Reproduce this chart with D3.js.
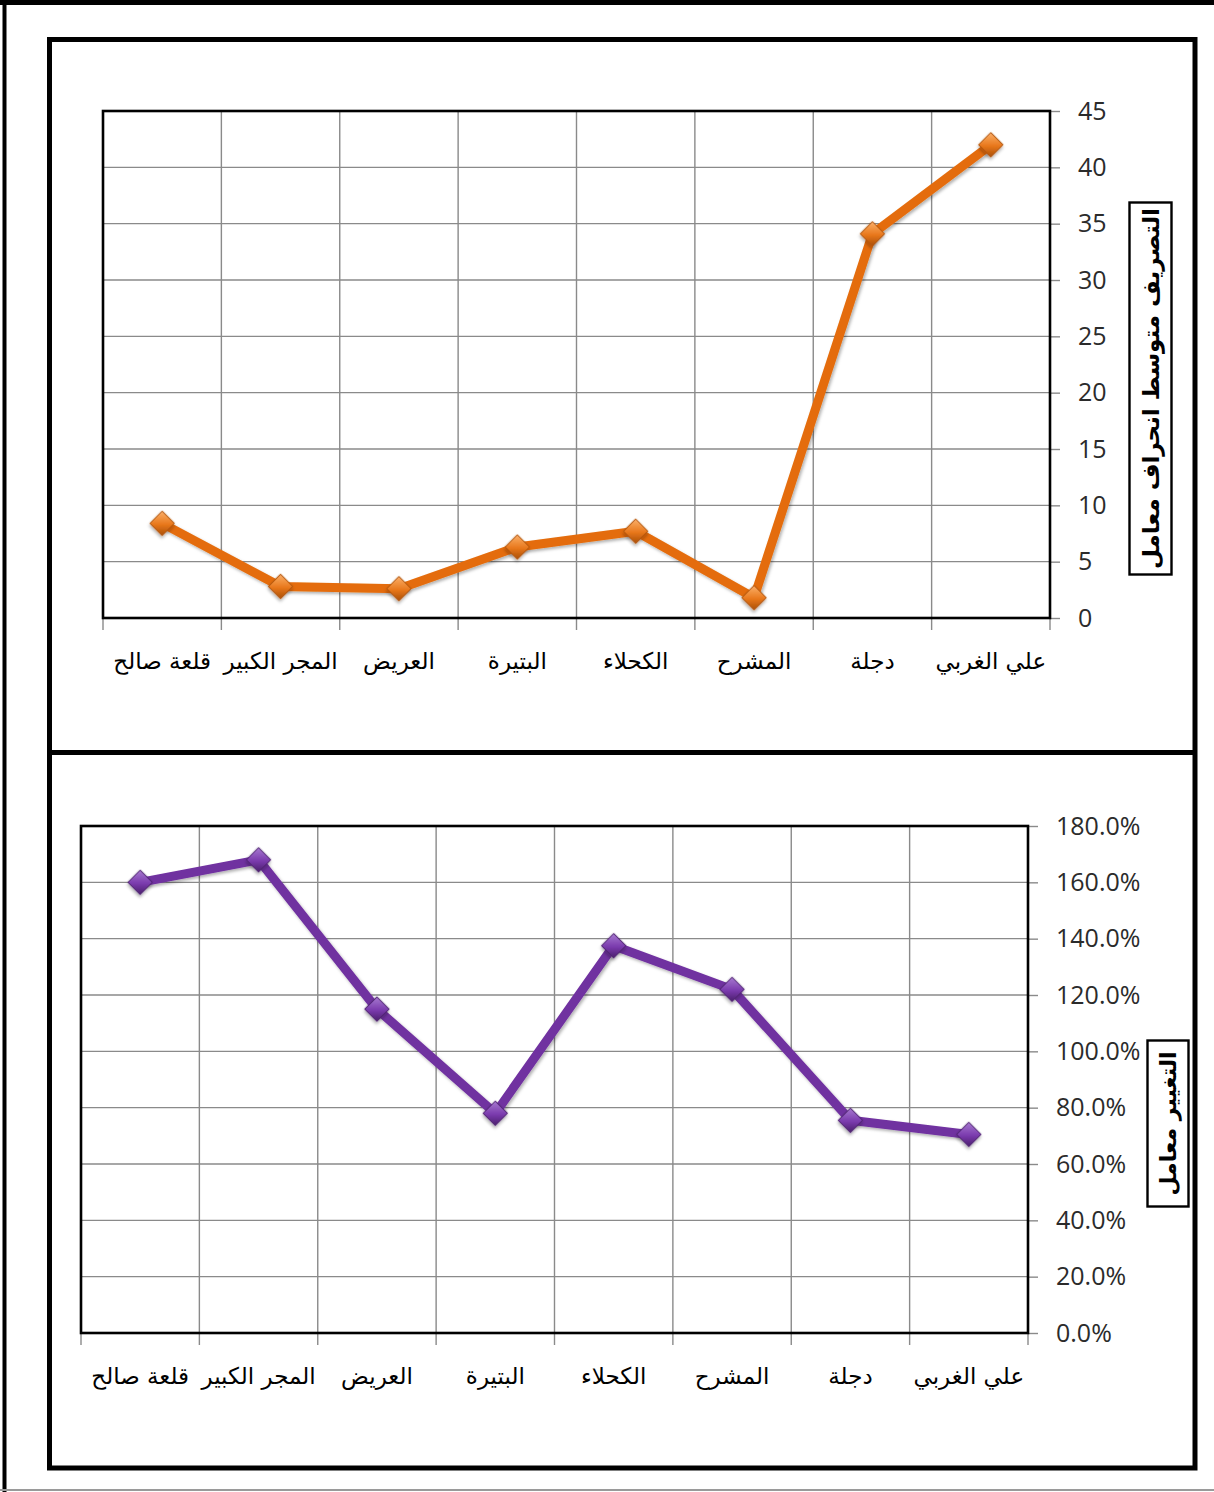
<!DOCTYPE html>
<html>
<head>
<meta charset="utf-8">
<script src="https://cdn.jsdelivr.net/npm/d3@7"></script>
<style>
  body { margin: 0; background: #fff; }
  svg { display: block; }
</style>
</head>
<body>
<svg id="chart" width="1214" height="1492"></svg>
<script>
// Stations along the river, left to right
const categories = ["قلعة صالح", "المجر الكبير", "العريض", "البتيرة", "الكحلاء", "المشرح", "دجلة", "علي الغربي"];

// Mean discharge deviation coefficient per station
const deviationValues = [8.4, 2.8, 2.6, 6.3, 7.7, 1.8, 34.1, 42.0];
const deviationTicks = [0, 5, 10, 15, 20, 25, 30, 35, 40, 45];
const deviationTitleWords = ["معامل", "انحراف", "متوسط", "التصريف"];

// Coefficient of variation per station (percent)
const variationValues = [160.0, 168.0, 115.0, 78.0, 137.5, 122.0, 75.5, 70.5];
const variationTicks = [0, 20, 40, 60, 80, 100, 120, 140, 160, 180];
const variationTitleWords = ["معامل", "التغيير"];

const svg = d3.select("#chart");
const defs = svg.append("defs");

// soft shadow used under lines and markers
const shadow = defs.append("filter").attr("id", "shadow")
  .attr("x", "-30%").attr("y", "-30%").attr("width", "160%").attr("height", "160%");
shadow.append("feDropShadow").attr("dx", 1.5).attr("dy", 2).attr("stdDeviation", 1.6)
  .attr("flood-color", "#000").attr("flood-opacity", 0.3);

function markerGradient(id, light, mid, dark) {
  const g = defs.append("linearGradient").attr("id", id)
    .attr("x1", 0).attr("y1", 0).attr("x2", 1).attr("y2", 1);
  g.append("stop").attr("offset", "0%").attr("stop-color", light);
  g.append("stop").attr("offset", "55%").attr("stop-color", mid);
  g.append("stop").attr("offset", "100%").attr("stop-color", dark);
}
markerGradient("gradOrange", "#fbb06a", "#e8771a", "#a94f06");
markerGradient("gradPurple", "#a77ad0", "#7a3aad", "#4a1f6c");

// ---- page frame ----
svg.append("line").attr("x1", 0).attr("x2", 1214).attr("y1", 2.5).attr("y2", 2.5)
  .attr("stroke", "#000").attr("stroke-width", 5);
svg.append("line").attr("x1", 4.5).attr("x2", 4.5).attr("y1", 0).attr("y2", 1492)
  .attr("stroke", "#000").attr("stroke-width", 4);
svg.append("line").attr("x1", 0).attr("x2", 1214).attr("y1", 1490).attr("y2", 1490)
  .attr("stroke", "#9a9a9a").attr("stroke-width", 2);

svg.append("rect").attr("x", 49.5).attr("y", 39.5).attr("width", 1145.5).attr("height", 1428.5)
  .attr("fill", "none").attr("stroke", "#000").attr("stroke-width", 5);
svg.append("line").attr("x1", 47).attr("x2", 1197).attr("y1", 752.5).attr("y2", 752.5)
  .attr("stroke", "#000").attr("stroke-width", 5);

function drawPanel(cfg) {
  const { left, top, right, bottom } = cfg.plot;
  const g = svg.append("g");

  const x = d3.scaleBand().domain(categories).range([left, right]).padding(0);
  const y = d3.scaleLinear().domain([0, cfg.max]).range([bottom, top]);
  const cx = c => x(c) + x.bandwidth() / 2;

  // horizontal gridlines
  g.append("g").selectAll("line").data(cfg.ticks.slice(1, -1)).join("line")
    .attr("x1", left).attr("x2", right)
    .attr("y1", d => y(d)).attr("y2", d => y(d))
    .attr("stroke", "#8a8a8a").attr("stroke-width", 1.4);

  // vertical gridlines at category boundaries
  const bounds = categories.map(c => x(c)).concat([x.range()[1]]);
  g.append("g").selectAll("line").data(bounds.slice(1, -1)).join("line")
    .attr("x1", d => d).attr("x2", d => d)
    .attr("y1", top).attr("y2", bottom)
    .attr("stroke", "#8a8a8a").attr("stroke-width", 1.4);

  // x tick marks below the plot
  g.append("g").selectAll("line").data(bounds).join("line")
    .attr("x1", d => d).attr("x2", d => d)
    .attr("y1", bottom).attr("y2", bottom + 12)
    .attr("stroke", "#8a8a8a").attr("stroke-width", 1.4);

  // value axis on the right
  const yAxis = d3.axisRight(y).tickValues(cfg.ticks).tickSize(10).tickPadding(cfg.labelPad)
    .tickFormat(cfg.format);
  const ya = g.append("g").attr("transform", `translate(${right},0)`).call(yAxis);
  ya.select(".domain").remove();
  ya.selectAll(".tick line").attr("stroke", "#8a8a8a").attr("stroke-width", 1.4);
  ya.selectAll(".tick text")
    .attr("fill", "#2b2b2b")
    .style("font-family", "'Open Sans', 'Noto Sans', sans-serif")
    .style("font-size", "25px");

  // category labels
  const xAxis = d3.axisBottom(x).tickSize(0).tickPadding(0);
  const xa = g.append("g").attr("transform", `translate(0,${cfg.labelY})`).call(xAxis);
  xa.select(".domain").remove();
  xa.selectAll(".tick text")
    .attr("fill", "#000")
    .attr("dy", 0)
    .style("font-family", "'DejaVu Sans', sans-serif")
    .style("font-size", "23px");

  // plot border
  g.append("rect").attr("x", left).attr("y", top)
    .attr("width", right - left).attr("height", bottom - top)
    .attr("fill", "none").attr("stroke", "#000").attr("stroke-width", 2.6);

  // series line
  const line = d3.line().x((d, i) => cx(categories[i])).y(d => y(d));
  g.append("path").datum(cfg.values)
    .attr("d", line)
    .attr("fill", "none")
    .attr("stroke", cfg.color)
    .attr("stroke-width", 9)
    .attr("stroke-linejoin", "round")
    .attr("filter", "url(#shadow)");

  // diamond markers
  const diamond = d3.symbol().type(d3.symbolSquare).size(300);
  g.append("g").selectAll("path").data(cfg.values).join("path")
    .attr("d", diamond)
    .attr("transform", (d, i) => `translate(${cx(categories[i])},${y(d)}) rotate(45)`)
    .attr("fill", `url(#${cfg.gradient})`)
    .attr("stroke", cfg.markerStroke)
    .attr("stroke-width", 1)
    .attr("filter", "url(#shadow)");

  // boxed vertical axis title, words stacked from bottom to top
  const b = cfg.titleBox;
  g.append("rect").attr("x", b.x).attr("y", b.y).attr("width", b.w).attr("height", b.h)
    .attr("fill", "#fff").attr("stroke", "#000").attr("stroke-width", 2.4);
  const tx = b.x + b.w / 2;
  const words = g.append("g").selectAll("text").data(cfg.titleWords).join("text")
    .attr("text-anchor", "middle")
    .attr("dominant-baseline", "central")
    .style("font-family", "'DejaVu Sans', sans-serif")
    .style("font-weight", "bold")
    .style("font-size", cfg.titleSize + "px")
    .text(d => d);
  const widths = [];
  words.each(function () { widths.push(this.getComputedTextLength()); });
  const gap = cfg.titleSize * 0.35;
  const total = d3.sum(widths) + gap * (widths.length - 1);
  let pos = b.y + b.h / 2 + total / 2;
  words.attr("transform", (d, i) => {
    const c = pos - widths[i] / 2;
    pos -= widths[i] + gap;
    return `translate(${tx},${c}) rotate(-90)`;
  });
}

drawPanel({
  plot: { left: 103, top: 111, right: 1050, bottom: 618 },
  max: 45,
  ticks: deviationTicks,
  values: deviationValues,
  format: d => d,
  labelPad: 18,
  labelY: 669,
  color: "#e46c0a",
  gradient: "gradOrange",
  markerStroke: "#b5560a",
  titleBox: { x: 1129.5, y: 202.5, w: 42, h: 372 },
  titleWords: deviationTitleWords,
  titleSize: 23
});

drawPanel({
  plot: { left: 81, top: 826, right: 1028, bottom: 1333 },
  max: 180,
  ticks: variationTicks,
  values: variationValues,
  format: d => d.toFixed(1) + "%",
  labelPad: 18,
  labelY: 1384,
  color: "#7030a0",
  gradient: "gradPurple",
  markerStroke: "#4f2271",
  titleBox: { x: 1147.5, y: 1040.5, w: 41, h: 166 },
  titleWords: variationTitleWords,
  titleSize: 22
});
</script>
</body>
</html>
